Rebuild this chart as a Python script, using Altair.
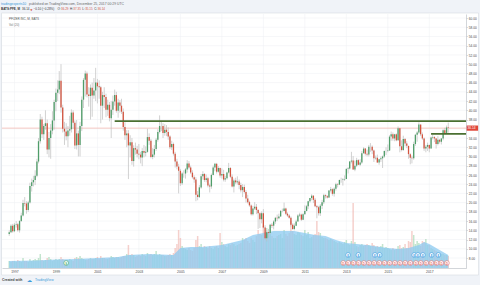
import altair as alt
import numpy as np
import pandas as pd

FONT = "Liberation Sans"
W, H = 464, 254

# ---------------- data ----------------
first_month = "1996-10-01"
prev_close = 13.2

close = [
    13.6, 15.0, 13.8,
    15.2, 15.3, 14.0, 16.0, 17.2, 19.9, 19.8, 18.4, 20.0, 23.6, 24.4, 24.9,
    25.8, 28.9, 33.3, 38.0, 34.8, 36.6, 37.2, 31.5, 34.0, 35.6, 37.8, 41.8,
    43.8, 44.5, 46.4, 40.6, 36.0, 35.4, 34.4, 35.6, 35.9, 39.5, 37.3, 32.4,
    35.0, 32.5, 36.6, 42.3, 46.6, 48.0, 43.4, 43.1, 44.9, 43.2, 44.3, 46.0,
    45.2, 45.0, 41.0, 43.3, 42.9, 40.1, 41.2, 38.3, 40.1, 41.9, 43.3, 39.9,
    41.7, 41.0, 39.7, 36.4, 34.6, 35.0, 32.4, 33.1, 29.0, 31.8, 31.5, 30.6,
    30.4, 29.8, 31.2, 30.8, 31.0, 34.2, 33.4, 29.9, 30.4, 31.6, 33.6, 35.3,
    36.6, 36.6, 35.1, 35.8, 35.3, 34.3, 32.0, 32.7, 30.6, 28.9, 27.8, 26.9,
    24.2, 26.3, 26.3, 27.2, 28.5, 27.6, 26.5, 25.5, 25.0, 21.7, 21.2, 23.3,
    25.7, 26.2, 24.9, 25.3, 23.7, 23.5, 26.0, 27.6, 28.4, 26.7, 27.5, 25.9,
    26.2, 25.0, 25.3, 26.5, 27.5, 25.6, 23.5, 24.8, 24.4, 24.6, 23.8, 22.7,
    23.4, 22.3, 20.9, 20.1, 19.4, 17.5, 18.7, 19.1, 18.4, 17.7, 16.4, 17.7,
    14.6, 12.3, 13.6, 13.4, 15.2, 15.0, 15.9, 16.7, 16.6, 17.0, 18.2, 18.2,
    18.7, 17.6, 17.2, 16.7, 15.2, 14.3, 15.0, 15.9, 17.2, 17.4, 16.3, 17.5,
    18.2, 19.2, 20.3, 21.0, 21.5, 20.6, 19.2, 19.0, 17.7, 19.3, 20.1, 21.6,
    21.4, 21.1, 22.6, 22.9, 21.9, 23.0, 24.0, 23.9, 24.9, 24.9, 25.0, 25.1,
    27.3, 27.4, 28.9, 29.1, 27.2, 28.0, 29.2, 28.2, 28.7, 30.7, 31.7, 30.6,
    30.4, 32.1, 32.1, 31.3, 29.6, 29.7, 28.7, 29.4, 29.6, 30.0, 31.2, 31.2,
    31.3, 34.3, 34.8, 33.9, 34.8, 33.5, 36.1, 32.2, 31.4, 33.8, 32.8, 32.3,
    30.5, 29.7, 29.6, 32.7, 34.7, 35.2, 36.9, 34.8, 33.9, 31.7, 32.1, 32.5,
    31.7, 34.1, 34.2, 33.9, 32.7, 33.6, 33.2, 33.9, 35.7, 35.1, 36.29, 36.14,
]

high = [
    14.0, 15.3, 15.4,
    15.6, 16.0, 15.6, 16.2, 17.8, 20.6, 21.2, 20.3, 20.4, 24.3, 25.2, 25.8,
    27.0, 29.5, 34.0, 39.2, 38.6, 37.0, 40.0, 38.0, 35.3, 37.0, 39.8, 42.3,
    44.7, 46.5, 48.5, 50.0, 41.2, 37.5, 37.2, 36.6, 38.8, 40.2, 40.0, 37.8,
    37.9, 35.6, 37.5, 43.0, 47.0, 48.6, 48.4, 45.0, 45.6, 46.0, 47.0, 49.2,
    46.8, 46.5, 45.3, 44.0, 45.0, 43.6, 42.3, 41.8, 42.0, 43.2, 44.5, 44.0,
    42.5, 42.2, 42.5, 40.4, 37.4, 35.7, 35.7, 34.6, 34.0, 32.4, 33.0, 32.3,
    32.7, 31.0, 31.8, 32.5, 32.2, 36.0, 35.0, 33.8, 31.8, 32.5, 34.0, 35.9,
    38.9, 37.7, 37.2, 37.0, 36.8, 36.3, 34.6, 33.4, 33.0, 31.0, 29.5, 28.4,
    27.3, 26.6, 27.0, 27.5, 29.2, 29.0, 28.0, 27.0, 25.9, 25.5, 22.5, 23.8,
    26.2, 26.8, 26.4, 26.1, 25.6, 24.1, 26.3, 28.0, 28.6, 28.6, 27.9, 27.6,
    27.4, 27.1, 25.8, 26.7, 28.6, 27.7, 26.1, 25.2, 25.4, 25.7, 25.0, 24.3,
    24.0, 23.9, 22.7, 21.7, 20.4, 19.6, 19.3, 20.1, 19.7, 18.6, 17.9, 18.1,
    18.6, 15.1, 14.0, 14.3, 15.4, 15.6, 16.2, 16.9, 17.4, 17.6, 18.4, 18.7,
    20.0, 18.9, 17.9, 17.5, 17.0, 15.5, 15.5, 16.3, 17.5, 17.8, 17.6, 17.7,
    19.4, 19.5, 20.4, 21.0, 21.8, 21.6, 21.0, 19.5, 19.3, 19.7, 20.6, 21.9,
    21.8, 21.6, 22.7, 23.4, 23.1, 23.3, 24.3, 24.2, 25.0, 25.4, 25.3, 25.9,
    27.5, 27.7, 29.0, 31.0, 30.1, 29.1, 29.7, 29.4, 29.4, 31.2, 32.0, 31.8,
    31.5, 32.5, 32.9, 32.4, 31.5, 30.2, 30.4, 29.5, 30.0, 30.2, 31.3, 32.0,
    32.6, 34.6, 35.4, 35.2, 34.9, 35.0, 36.5, 36.2, 33.5, 34.5, 34.0, 33.3,
    32.3, 30.7, 30.2, 33.2, 34.9, 35.5, 37.4, 37.0, 35.2, 34.1, 32.5, 33.0,
    32.6, 34.3, 34.7, 34.4, 34.0, 34.4, 33.8, 34.0, 35.9, 36.2, 36.7, 37.35,
]

low = [
    12.8, 13.4, 13.5,
    13.6, 14.6, 13.7, 13.5, 15.8, 17.0, 19.2, 17.6, 18.0, 19.8, 22.4, 23.5,
    23.8, 25.5, 28.5, 32.8, 34.0, 33.6, 35.8, 30.5, 29.8, 29.5, 34.8, 35.8,
    39.8, 42.0, 43.5, 39.5, 35.2, 32.5, 33.5, 32.0, 34.5, 35.2, 36.0, 31.6,
    31.5, 30.0, 30.0, 35.5, 40.5, 43.0, 42.8, 40.8, 38.0, 38.6, 42.5, 42.0,
    41.5, 42.5, 37.2, 38.0, 40.5, 38.5, 38.8, 37.6, 34.0, 39.0, 41.0, 39.5,
    38.4, 39.5, 39.2, 35.6, 33.6, 32.0, 25.1, 29.8, 28.2, 27.8, 30.4, 29.8,
    29.4, 28.5, 27.9, 29.8, 30.0, 30.8, 32.5, 29.6, 29.4, 29.8, 31.2, 33.2,
    35.0, 35.5, 34.0, 34.5, 34.4, 33.6, 31.6, 31.4, 30.2, 27.6, 27.2, 22.0,
    23.6, 23.8, 25.4, 25.2, 26.5, 27.2, 26.2, 25.2, 24.3, 20.3, 20.5, 21.0,
    23.0, 25.0, 24.5, 24.4, 23.3, 22.2, 23.0, 25.9, 26.8, 26.3, 26.5, 25.4,
    25.2, 24.6, 24.5, 25.0, 26.3, 25.3, 23.3, 22.2, 24.0, 23.9, 22.9, 22.2,
    21.2, 22.0, 20.0, 19.8, 19.1, 17.2, 17.2, 18.4, 17.5, 14.3, 14.5, 15.5,
    14.4, 12.0, 11.6, 12.4, 13.2, 14.5, 14.2, 15.4, 16.0, 16.4, 16.9, 17.9,
    18.1, 17.3, 16.9, 16.5, 14.8, 14.1, 14.0, 14.9, 15.9, 16.9, 16.0, 16.2,
    17.4, 18.1, 18.6, 20.0, 20.5, 19.9, 19.0, 16.6, 17.2, 17.1, 18.6, 19.7,
    20.9, 20.9, 21.0, 22.2, 21.5, 21.3, 22.6, 23.3, 23.8, 24.3, 23.7, 24.7,
    25.1, 26.3, 27.2, 28.5, 27.1, 26.8, 27.7, 28.1, 27.9, 28.4, 30.6, 30.2,
    30.0, 30.0, 31.0, 30.5, 28.8, 29.3, 28.6, 28.2, 28.8, 27.5, 29.7, 30.3,
    30.9, 31.2, 33.4, 33.4, 33.3, 33.3, 33.4, 30.9, 31.1, 31.2, 32.2, 31.8,
    29.5, 28.3, 28.5, 29.3, 32.3, 33.2, 34.9, 34.4, 33.6, 31.2, 30.9, 31.2,
    30.9, 31.7, 33.7, 33.1, 31.7, 32.4, 32.8, 32.6, 33.5, 34.8, 34.9, 35.15,
]

# monthly volume (relative units)
volume = [
    7, 6, 7,
    7, 6, 8, 7, 6, 10, 7, 7, 6, 9, 7, 8,
    9, 8, 10, 14, 8, 7, 8, 10, 11, 9, 7, 8,
    9, 8, 9, 11, 9, 8, 7, 8, 9, 8, 7, 10,
    11, 10, 12, 10, 9, 8, 8, 9, 10, 9, 9, 10,
    11, 9, 12, 10, 10, 9, 9, 10, 12, 11, 10, 11,
    11, 10, 11, 12, 12, 14, 23, 13, 14, 13, 11, 12,
    13, 12, 14, 13, 12, 15, 13, 14, 13, 14, 17, 13,
    14, 13, 13, 12, 12, 13, 14, 13, 15, 20, 24, 38,
    30, 22, 20, 19, 18, 20, 18, 17, 20, 28, 32, 22,
    24, 20, 22, 21, 20, 22, 20, 19, 21, 22, 20, 35,
    26, 24, 22, 21, 24, 23, 25, 24, 22, 23, 24, 25,
    30, 28, 30, 27, 25, 30, 28, 26, 32, 38, 34, 33,
    42, 36, 40, 36, 34, 32, 30, 30, 32, 33, 34, 30,
    38, 34, 32, 35, 47, 37, 34, 33, 36, 35, 33, 32,
    38, 33, 36, 30, 31, 33, 34, 47, 36, 35, 31, 30,
    30, 29, 28, 29, 28, 27, 26, 25, 26, 25, 24, 26,
    28, 24, 23, 27, 65, 26, 22, 21, 23, 24, 22, 23,
    24, 23, 22, 25, 23, 21, 22, 21, 22, 24, 20, 21,
    20, 19, 18, 20, 18, 19, 22, 23, 20, 21, 24, 20,
    27, 26, 37, 33, 24, 27, 25, 22, 27, 26, 29, 23,
    23, 20, 19, 18, 17, 16, 15, 14, 14, 13, 13, 12,
]

# Vol (20) moving-average envelope, read at nodes
ma_dates = ["1996-10-01", "1998-01-01", "1999-01-01", "2000-01-01", "2001-01-01",
            "2002-01-01", "2002-07-01", "2003-07-01", "2004-09-01", "2005-01-01",
            "2005-07-01", "2006-01-01", "2007-01-01", "2008-01-01", "2008-07-01",
            "2009-01-01", "2009-07-01", "2010-07-01", "2011-01-01", "2011-07-01",
            "2012-01-01", "2012-07-01", "2013-01-01", "2014-01-01", "2015-01-01",
            "2015-07-01", "2016-01-01", "2016-07-01", "2016-10-01", "2017-01-01",
            "2017-07-01", "2017-12-01"]
ma_values = [7, 7.5, 8.5, 9, 10, 11, 13, 14, 13, 20, 21, 21, 23, 28, 33,
             35, 37, 37, 35, 33, 32, 28, 25, 23, 20, 19, 20, 23, 26, 24, 18, 13]

year_ticks = list(range(1997, 2018, 2))
price_ticks = list(range(8, 61, 2))
last_price = 36.14
res_levels = [37.65, 34.9]
res_starts = ["2001-11-01", "2017-02-01"]
div_dates = ["2012-11-07", "2013-02-05", "2013-05-08", "2013-08-05", "2013-11-06",
             "2014-02-05", "2014-05-07", "2014-08-06", "2014-11-05", "2015-02-04",
             "2015-05-06", "2015-08-05", "2015-11-04", "2016-02-03", "2016-05-11",
             "2016-08-03", "2016-11-08", "2017-02-08", "2017-05-10", "2017-08-02",
             "2017-11-08"]
earn_dates = ["2013-02-01", "2013-08-01", "2014-05-20", "2014-08-10", "2016-04-10",
              "2016-06-15", "2016-09-10", "2017-02-10", "2017-06-10"]
split_dates = ["1999-07-01"]

# ---------------- tables ----------------
months = pd.date_range(first_month, periods=len(close), freq="MS")
opens = [prev_close] + close[:-1]
df = pd.DataFrame({"date": months, "open": opens, "high": high, "low": low,
                   "close": close, "vol": volume})
df["dir"] = np.where(df["close"] >= df["open"], "up", "down")
ma_df = pd.DataFrame({"date": pd.to_datetime(ma_dates), "ma": ma_values})
ONE = pd.DataFrame({"k": [0]})

GREEN, RED = "#4f9d69", "#d3543f"
VUP, VDOWN = "#9bd4ad", "#eeb0aa"

x_scale = alt.Scale(domain=[alt.DateTime(year=1996, month=8, date=23),
                            alt.DateTime(year=2018, month=7, date=13)], nice=False)
y_scale = alt.Scale(domain=[5.83, 60.87], nice=False, zero=False)
v_scale = alt.Scale(domain=[0, H], nice=False, zero=True)

x_axis = alt.Axis(values=[alt.DateTime(year=y, month=1, date=1) for y in year_ticks],
                  format="%Y", labelFontSize=3.4, labelFont=FONT, labelColor="#4a4a4a",
                  tickSize=0, domainColor="#b5bac1", domainWidth=0.6, labelPadding=1.2,
                  grid=False, title=None, labelOverlap=False, labelFlush=False, zindex=1)
y_axis = alt.Axis(orient="right", values=[v for v in price_ticks if v != 36],
                  format=".2f", labelFontSize=3.2, labelFont=FONT, labelColor="#4a4a4a",
                  tickSize=1.5, tickColor="#b5bac1", tickWidth=0.5, domainColor="#b5bac1",
                  domainWidth=0.6, labelPadding=0.8, grid=False, title=None,
                  labelOverlap=False, labelFlush=False, zindex=1)


def X(field):
    return alt.X(field, type="temporal", scale=x_scale, axis=x_axis)


def PY(field):
    return alt.Y(field, type="quantitative", scale=y_scale, axis=y_axis)


def box(x0, x1, y0, y1, fill="white", stroke=None):
    props = dict(fill=fill)
    if stroke:
        props = dict(fillOpacity=0, stroke=stroke, strokeWidth=0.6)
    return alt.Chart(ONE).mark_rect(**props).encode(
        x=alt.value(x0), x2=alt.value(x1), y=alt.value(y0), y2=alt.value(y1))


def txt(s, x, y, size=3.4, color="#555555", weight="normal", font=FONT):
    return alt.Chart(ONE).mark_text(text=s, fontSize=size, color=color, fontWeight=weight,
                                    align="left", baseline="middle", font=font).encode(
        x=alt.value(x), y=alt.value(y))


# white frame parts outside the plot
strips = [box(W, W + 12.5, -1, H + 7), box(-0.5, W + 12.5, H, H + 7), box(-0.5, W, -1, 0),
          box(-0.5, W + 12.5, -1, H + 7, stroke="#d6dbe1")]

# grid
grid_h = alt.Chart(pd.DataFrame({"p": price_ticks})).mark_rule(
    color="#eceff3", strokeWidth=0.5).encode(y=alt.Y("p:Q", scale=y_scale, axis=None))
grid_v = alt.Chart(pd.DataFrame({"d": pd.to_datetime([f"{y}-01-01" for y in year_ticks])})).mark_rule(
    color="#eceff3", strokeWidth=0.5).encode(x=X("d"))
grid_group = alt.layer(grid_h, grid_v)

# volume
base = alt.Chart(df)
vol_bars = base.mark_bar(size=1.5, opacity=0.6).encode(
    x=X("date"), y=alt.Y("vol:Q", scale=v_scale, axis=None),
    color=alt.condition("datum.dir == 'up'", alt.value(VUP), alt.value(VDOWN)))
vol_ma = alt.Chart(ma_df).mark_area(color="#8ccaf0", opacity=0.75).encode(
    x=X("date"), y=alt.Y("ma:Q", scale=v_scale, axis=None))
vol_group = alt.layer(vol_bars, vol_ma)

# price
price_line = alt.Chart(pd.DataFrame({"p": [last_price]})).mark_rule(
    color="#f3b1ab", strokeWidth=0.7).encode(y=PY("p"))
wicks = base.mark_rule(color="#bdbdbd", strokeWidth=0.7).encode(
    x=X("date"), y=PY("low"), y2="high:Q")
bodies = base.mark_bar(size=1.3).encode(
    x=X("date"), y=PY("open"), y2="close:Q",
    color=alt.condition("datum.dir == 'up'", alt.value(GREEN), alt.value(RED)))
res = alt.Chart(pd.DataFrame({"start": pd.to_datetime(res_starts), "level": res_levels})).mark_rule(
    color="#4a6f31", strokeWidth=1.6).encode(x=X("start"), x2=alt.value(W), y=PY("level"))
lp = pd.DataFrame({"p": [last_price], "t": [f"{last_price:.2f}"]})
lp_box = alt.Chart(lp).mark_tick(color="#e0463a", thickness=5.2, size=11.8,
                                 orient="horizontal", opacity=1).encode(
    x=alt.value(W + 6.2), y=PY("p"))
lp_txt = alt.Chart(lp).mark_text(color="white", fontSize=3.2, align="left",
                                 baseline="middle", font=FONT).encode(
    x=alt.value(W + 1.6), y=PY("p"), text="t:N")
price_group = alt.layer(price_line, wicks, bodies, res, lp_box, lp_txt)


# events
def events(dates, yv, color, letter):
    d = pd.DataFrame({"d": pd.to_datetime(dates)})
    c = alt.Chart(d).mark_circle(size=22, color="white", stroke=color, strokeWidth=0.6,
                                 opacity=1).encode(x=X("d"), y=alt.value(yv))
    t = alt.Chart(d).mark_text(text=letter, fontSize=2.8, color=color, fontWeight="bold",
                               font=FONT, baseline="middle").encode(x=X("d"), y=alt.value(yv + 0.2))
    return [c, t]


ev = (events(div_dates, 249, "#e8736e", "D") + events(earn_dates, 241, "#3d9be0", "E")
      + events(split_dates, 249, "#4caf6a", "S"))

L1, L2 = -10.5, -4.8
DARK, REDT = "#333333", "#d3543f"
texts = [
    txt("tradingexperts10", -1, L1, 3.4, "#3b9ad9"),
    txt("published on TradingView.com, December 25, 2017 00:29 UTC", 27.0, L1, 3.4, "#666666"),
    txt("BATS:PFE, M", -1, L2, 3.0, DARK, "bold"),
    txt("36.14", 20.0, L2, 3.0, DARK),
    txt("▼", 28.3, L2, 2.8, REDT, font="DejaVu Sans"),
    txt("−0.10 (−0.28%)", 31.6, L2, 3.0, DARK),
    txt("O:", 55.5, L2, 3.0, DARK), txt("36.29", 59.0, L2, 3.0, REDT),
    txt("H:", 68.0, L2, 3.0, DARK), txt("37.35", 71.3, L2, 3.0, REDT),
    txt("L:", 80.3, L2, 3.0, DARK), txt("35.15", 83.2, L2, 3.0, REDT),
    txt("C:", 92.2, L2, 3.0, DARK), txt("36.14", 95.5, L2, 3.0, REDT),
    txt("PFIZER INC, M, BATS", 7, 4.3, 3.0, "#555555"),
    txt("Vol (20)", 7, 10.3, 3.0, "#777777"),
    txt("Created with", 0, 266, 3.4, "#444444", "bold"),
    txt("☁", 25, 266, 5, "#3b9ad9", font="DejaVu Sans"),
    txt("TradingView", 33, 266, 3.4, "#3b9ad9"),
]

chart = alt.layer(*strips, grid_group, vol_group, price_group, *ev, *texts).resolve_scale(
    y="independent"
).properties(
    width=W, height=H,
    padding={"left": 2, "top": 14, "right": 14, "bottom": 17},
    autosize=alt.AutoSizeParams(type="none"),
).configure(background="#f0f3f8").configure_view(stroke=None, fill="white")

chart.save("out.html", embed_options={"renderer": "svg", "actions": False})
